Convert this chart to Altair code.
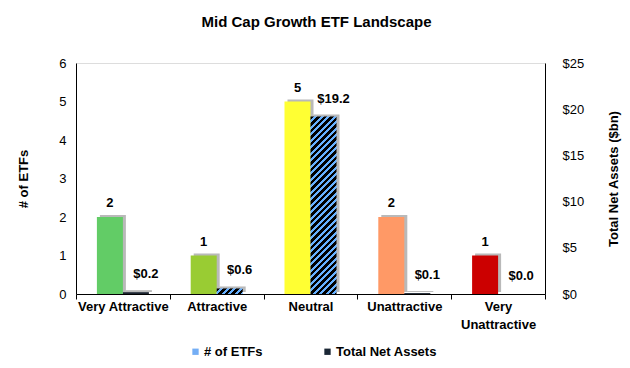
import math
import altair as alt
import pandas as pd

categories = ["Very Attractive", "Attractive", "Neutral", "Unattractive", "Very Unattractive"]
etf_counts = [2, 1, 5, 2, 1]
net_assets = [0.2, 0.6, 19.2, 0.1, 0.0]
bar_colors = ["#62cc66", "#99cc33", "#ffff33", "#ff9966", "#cc0000"]
legend_series = ["# of ETFs", "Total Net Assets"]
legend_colors = ["#74aef5", "#1b2735"]
count_ticks = [0, 1, 2, 3, 4, 5, 6]
asset_ticks = [0, 5, 10, 15, 20, 25]

FONT = "Liberation Sans"
W, H = 469, 231
BAR = 26
COUNT_MAX, ASSET_MAX = 6, 25

df = pd.DataFrame({
    "category": categories,
    "count": etf_counts,
    "tna": net_assets,
    "barcolor": bar_colors,
})

x_enc = alt.X(
    "category:N",
    sort=categories,
    scale=alt.Scale(paddingInner=0, paddingOuter=0),
    axis=alt.Axis(
        title=None, tickBand="extent", tickSize=5, tickColor="#000", domainColor="#000",
        labelFont=FONT, labelFontSize=13, labelFontWeight="bold", labelColor="#000",
        labelPadding=1, labelAngle=0, labelLineHeight=18,
        labelExpr="datum.label == 'Very Unattractive' ? ['Very', 'Unattractive'] : datum.label",
    ),
)

y_count = alt.Y(
    "count:Q",
    scale=alt.Scale(domain=[0, COUNT_MAX], nice=False),
    axis=alt.Axis(
        values=count_ticks, ticks=False, grid=False, domainColor="#000",
        labelFont=FONT, labelFontSize=13, labelColor="#000", labelPadding=10,
        title="# of ETFs", titleFont=FONT, titleFontSize=13, titleFontWeight="bold",
        titleColor="#000", titlePadding=28,
    ),
)

y_tna = alt.Y(
    "tna:Q",
    scale=alt.Scale(domain=[0, ASSET_MAX], nice=False),
    axis=alt.Axis(
        orient="right", values=asset_ticks, ticks=False, grid=False, domainColor="#000",
        labelFont=FONT, labelFontSize=13, labelColor="#000", labelPadding=17,
        labelExpr="'$' + datum.value",
        title="Total Net Assets ($bn)", titleFont=FONT, titleFontSize=13,
        titleFontWeight="bold", titleColor="#000", titlePadding=37, titleAngle=270,
    ),
)

base = alt.Chart(df)

count_shadow = base.mark_bar(size=BAR, xOffset=-BAR / 2 + 3, yOffset=-2, color="#8a8a8a", opacity=0.6).encode(
    x=x_enc, y=y_count)
count_bars = base.mark_bar(size=BAR, xOffset=-BAR / 2).encode(
    x=x_enc, y=y_count, color=alt.Color("barcolor:N", scale=None))
count_text = base.mark_text(
    xOffset=-BAR / 2, dy=-14, baseline="middle", font=FONT, fontSize=13, fontWeight="bold", color="#000"
).encode(x=x_enc, y=y_count, text="count:Q")

left = alt.layer(count_shadow, count_bars, count_text)


def hatch(h, w=BAR, period=6.5):
    if h < 3:
        return "#1c2430"
    k = (w + h) / (w * w + h * h)
    n = (w + h) / period
    stops = []
    j = 0
    while j / n < 1:
        s0 = j / n
        s1 = min((j + 0.55) / n, 1)
        s2 = min((j + 1) / n, 1)
        stops += [
            {"offset": s0, "color": "#000000"},
            {"offset": s1, "color": "#000000"},
            {"offset": s1, "color": "#66b0ff"},
            {"offset": s2, "color": "#66b0ff"},
        ]
        j += 1
    return alt.LinearGradient(gradient="linear", x1=0, y1=0, x2=k * w, y2=k * h, stops=stops)


tna_shadow = base.mark_bar(size=BAR, xOffset=BAR / 2 + 3, yOffset=-2, color="#8a8a8a", opacity=0.6).encode(
    x=x_enc, y=y_tna)
tna_layers = [tna_shadow]
for cat, val in zip(categories, net_assets):
    h = val * H / ASSET_MAX
    tna_layers.append(
        base.transform_filter(alt.datum.category == cat)
        .mark_bar(size=BAR, xOffset=BAR / 2, fill=hatch(h))
        .encode(x=x_enc, y=y_tna)
    )
tna_text = base.transform_calculate(
    lab="'$' + format(datum.tna, '.1f')"
).mark_text(
    xOffset=BAR / 2 + 10, dy=-18, baseline="middle", font=FONT, fontSize=13, fontWeight="bold", color="#000"
).encode(x=x_enc, y=y_tna, text="lab:N")
tna_layers.append(tna_text)
right = alt.layer(*tna_layers)

legend_df = pd.DataFrame({"series": legend_series})
legend_layer = alt.Chart(legend_df).mark_square(filled=True).encode(
    color=alt.Color(
        "series:N",
        scale=alt.Scale(domain=legend_series, range=legend_colors),
        legend=alt.Legend(
            title=None, orient="none", legendX=113, legendY=282, direction="horizontal",
            symbolType="square", symbolSize=40, symbolOpacity=1, symbolStrokeWidth=0,
            labelFont=FONT, labelFontSize=13, labelFontWeight="bold", labelColor="#000",
            labelOffset=2, columnPadding=58,
        ),
    ),
    opacity=alt.value(0),
)

chart = alt.layer(left, right, legend_layer).resolve_scale(y="independent").properties(
    width=W,
    height=H,
    title=alt.TitleParams(
        "Mid Cap Growth ETF Landscape", font=FONT, fontSize=15, fontWeight="bold",
        color="#000", anchor="middle", offset=27, dx=6,
    ),
    autosize=alt.AutoSizeParams(type="none"),
    padding={"left": 68, "top": 55, "right": 77, "bottom": 66},
).configure_view(stroke=None).configure(background="white")

chart.save("out.html", embed_options={"renderer": "svg", "actions": False})
